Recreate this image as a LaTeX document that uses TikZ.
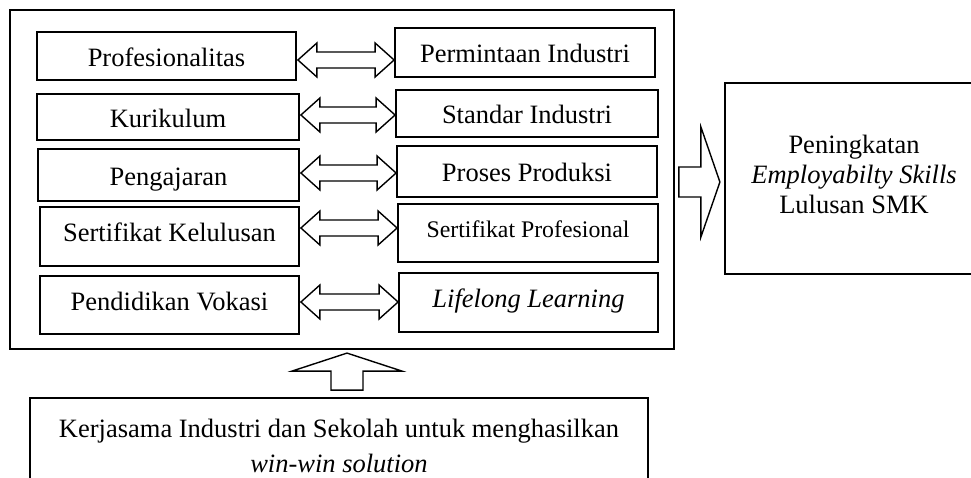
\documentclass[tikz,border=0pt]{standalone}
\usepackage{fontspec}
\setmainfont{Liberation Serif}
\usetikzlibrary{calc,positioning}

\tikzset{
  itembox/.style={draw, line width=1.8pt, inner sep=0pt, text height=26pt, text depth=5pt},
  lowbox/.style={itembox, text height=18pt, text depth=8pt},
  blockarrow/.style={draw, line width=1.4pt, fill=white, line join=miter},
}

\begin{document}
\begin{tikzpicture}[x=1pt,y=-1pt,font=\fontsize{26.5}{30}\selectfont]
\useasboundingbox (0,0) rectangle (971,478);

% Outer frame
\node[itembox, minimum width=664, minimum height=339] (frame) at (342,179.5) {};

% School side
\node[itembox, minimum width=259, minimum height=48] (prof) at (166.5,56) {Profesionalitas};
\node[itembox, minimum width=262, minimum height=46] (kur)  at (168,117)   {Kurikulum};
\node[itembox, minimum width=261, minimum height=52] (peng) at (168.5,175) {Pengajaran};
\node[lowbox, minimum width=259, minimum height=59] (sert) at (169.5,236.5) {Sertifikat Kelulusan};
\node[lowbox, minimum width=259, minimum height=58] (pend) at (169.5,305) {Pendidikan Vokasi};

% Industry side
\node[itembox, minimum width=260, minimum height=49] (perm)  at (525,52.5)  {Permintaan Industri};
\node[itembox, minimum width=262, minimum height=47] (stan)  at (527,113.5) {Standar Industri};
\node[itembox, minimum width=260, minimum height=51] (pros)  at (527,171.5) {Proses Produksi};
\node[lowbox, minimum width=260, minimum height=58, font=\fontsize{23.8}{28}\selectfont] (sprof) at (528,233) {Sertifikat Profesional};
\node[lowbox, minimum width=259, minimum height=59] (life)  at (528.5,302.5) {\textit{Lifelong Learning}};

% Result
\node[draw, line width=1.8pt, inner sep=0pt, text depth=9pt, minimum width=258, minimum height=191, align=center] (result) at (854,178.5)
  {Peningkatan\\\textit{Employabilty Skills}\\Lulusan SMK};

% Cooperation
\node[draw, line width=1.8pt, inner sep=0pt, minimum width=618, minimum height=95, align=center, font=\fontsize{26.5}{35}\selectfont] (coop) at (339,445.5)
  {Kerjasama Industri dan Sekolah untuk menghasilkan\\\textit{win-win solution}};

% Connectors
\foreach \a/\b/\dy in {prof/perm/4, kur/stan/-2, peng/pros/-2, sert/sprof/-8.5, pend/life/-3}
  \draw[blockarrow] let \p1=($(\a.east)+(1,\dy)$), \p2=(\b.west), \n1={\x2-\x1-38} in
    (\x1,\y1) -- ++(19,-17) -- ++(0,9) -- ++(\n1,0) -- ++(0,-9) -- ++(19,17)
    -- ++(-19,17) -- ++(0,-9) -- ++(-\n1,0) -- ++(0,9) -- cycle;

\draw[blockarrow] ($(frame.east)+(4,2.5)$) -- ++(0,-15) -- ++(22,0) -- ++(0,-40) -- ++(19,55)
  -- ++(-19,55) -- ++(0,-40) -- ++(-22,0) -- cycle;

\draw[blockarrow] ($(coop.north)+(8,-7)$) -- ++(-16,0) -- ++(0,-19) -- ++(-39,0) -- ++(55,-18)
  -- ++(55,18) -- ++(-39,0) -- ++(0,19) -- cycle;
\end{tikzpicture}
\end{document}
